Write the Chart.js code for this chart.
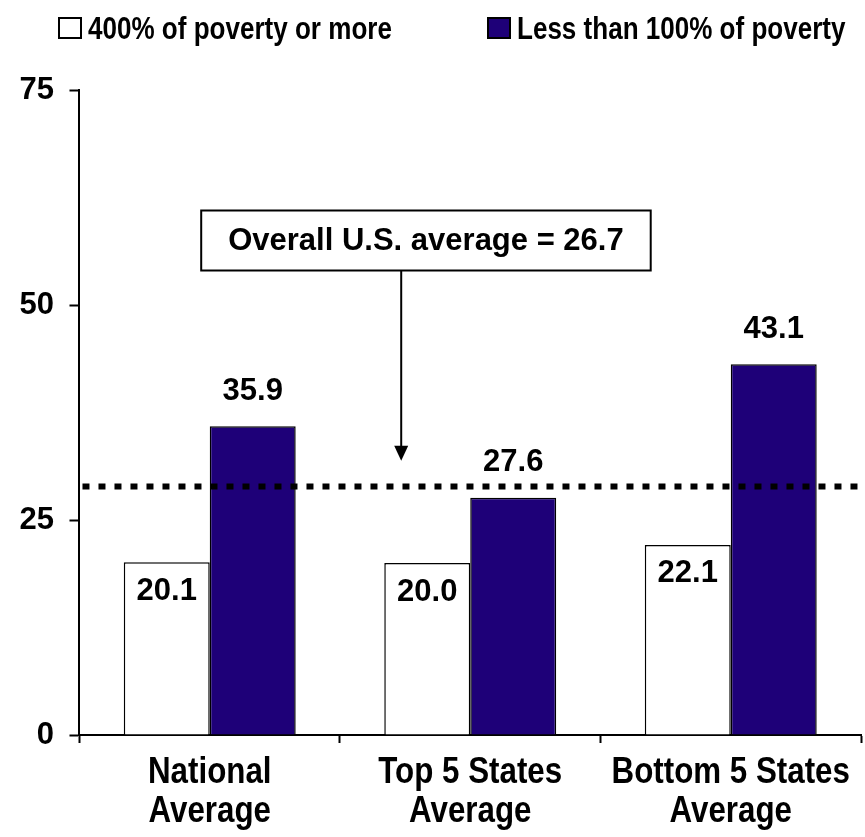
<!DOCTYPE html>
<html>
<head>
<meta charset="utf-8">
<script src="https://cdn.jsdelivr.net/npm/chart.js@4.4.1/dist/chart.umd.min.js"></script>
<style>
  html, body { margin: 0; padding: 0; background: #fff; }
  #wrap { width: 865px; height: 837px; }
</style>
</head>
<body>
<div id="wrap"><canvas id="chart"></canvas></div>
<script>
const categories = [["National", "Average"], ["Top 5 States", "Average"], ["Bottom 5 States", "Average"]];
const seriesNames = ["400% of poverty or more", "Less than 100% of poverty"];
const upperIncome = [20.1, 20.0, 22.1];
const belowPoverty = [35.9, 27.6, 43.1];
const yTicks = [0, 25, 50, 75];
const avgLine = 28.9;
const avgText = "Overall U.S. average = 26.7";

const NAVY = "#1e0078";
const arial = '"Liberation Sans", Arial, sans-serif';

// no narrow font installed, so squeeze Liberation Sans horizontally
function narrowText(ctx, txt, x, y, size, squeeze) {
  ctx.save();
  ctx.font = "bold " + size + "px " + arial;
  ctx.translate(x, y);
  ctx.scale(squeeze, 1);
  ctx.fillText(txt, 0, 0);
  ctx.restore();
}

// legend across the top
const topLegend = {
  id: "topLegend",
  afterDraw(chart) {
    const { ctx } = chart;
    const items = [
      { x: 59, color: "#fff" },
      { x: 488, color: NAVY }
    ];
    ctx.save();
    ctx.textBaseline = "alphabetic";
    ctx.textAlign = "left";
    items.forEach((it, i) => {
      ctx.fillStyle = it.color;
      ctx.fillRect(it.x, 18, 22, 20);
      ctx.lineWidth = 2;
      ctx.strokeStyle = "#000";
      ctx.strokeRect(it.x, 18, 22, 20);
      ctx.fillStyle = "#000";
      narrowText(ctx, seriesNames[i], it.x + 29, 39, 31, 0.84);
    });
    ctx.restore();
  }
};

// category names under the x axis
const catLabels = {
  id: "catLabels",
  afterDraw(chart) {
    const { ctx } = chart;
    const x = chart.scales.x;
    const base = x.top + 48;
    ctx.save();
    ctx.fillStyle = "#000";
    ctx.textAlign = "center";
    ctx.textBaseline = "alphabetic";
    categories.forEach((lines, i) => {
      const cx = x.getPixelForValue(i);
      lines.forEach((ln, k) => narrowText(ctx, ln, cx, base + k * 39, 36, 0.87));
    });
    ctx.restore();
  }
};

// value labels: white bars inside, navy bars above
const valueLabels = {
  id: "valueLabels",
  afterDatasetsDraw(chart) {
    const { ctx } = chart;
    ctx.save();
    ctx.font = "bold 31px " + arial;
    ctx.fillStyle = "#000";
    ctx.textAlign = "center";
    ctx.textBaseline = "middle";
    chart.data.datasets.forEach((ds, i) => {
      chart.getDatasetMeta(i).data.forEach((bar, j) => {
        const txt = ds.data[j].toFixed(1);
        const ty = i === 0 ? bar.y + 29 : bar.y - 35;
        ctx.fillText(txt, bar.x, ty);
      });
    });
    ctx.restore();
  }
};

// dotted average line + callout box with arrow
const avgNote = {
  id: "avgNote",
  afterDatasetsDraw(chart) {
    const { ctx, chartArea } = chart;
    const x = chart.scales.x, y = chart.scales.y;
    ctx.save();

    const ly = y.getPixelForValue(avgLine);
    ctx.strokeStyle = "#000";
    ctx.lineWidth = 6;
    ctx.setLineDash([7, 9]);
    ctx.beginPath();
    ctx.moveTo(chartArea.left + 3, ly);
    ctx.lineTo(chartArea.right + 4, ly);
    ctx.stroke();
    ctx.setLineDash([]);

    ctx.font = "bold 31px " + arial;
    const tw = ctx.measureText(avgText).width;
    const bw = tw + 54, bh = 60;
    const cx = x.getPixelForValue(0.83);
    const cy = y.getPixelForValue(57.5);
    ctx.fillStyle = "#fff";
    ctx.fillRect(cx - bw / 2, cy - bh / 2, bw, bh);
    ctx.lineWidth = 2;
    ctx.strokeRect(cx - bw / 2, cy - bh / 2, bw, bh);
    ctx.fillStyle = "#000";
    ctx.textAlign = "center";
    ctx.textBaseline = "middle";
    ctx.fillText(avgText, cx, cy + 1);

    const ax = x.getPixelForValue(0.735);
    const tip = y.getPixelForValue(31.9);
    ctx.lineWidth = 2;
    ctx.beginPath();
    ctx.moveTo(ax, cy + bh / 2);
    ctx.lineTo(ax, tip - 12);
    ctx.stroke();
    ctx.beginPath();
    ctx.moveTo(ax - 7, tip - 15);
    ctx.lineTo(ax + 7, tip - 15);
    ctx.lineTo(ax, tip);
    ctx.closePath();
    ctx.fill();
    ctx.restore();
  }
};

new Chart(document.getElementById("chart"), {
  type: "bar",
  data: {
    labels: categories,
    datasets: [
      {
        label: seriesNames[0],
        data: upperIncome,
        backgroundColor: "#fff",
        borderColor: "#000",
        borderWidth: 1.5
      },
      {
        label: seriesNames[1],
        data: belowPoverty,
        backgroundColor: NAVY,
        borderColor: "#000",
        borderWidth: 1.5
      }
    ]
  },
  options: {
    responsive: true,
    maintainAspectRatio: false,
    animation: false,
    devicePixelRatio: 1,
    layout: { padding: { left: 4, right: 4, top: 90, bottom: 2 } },
    datasets: { bar: { categoryPercentage: 0.66, barPercentage: 1 } },
    plugins: {
      tooltip: { enabled: false },
      legend: { display: false }
    },
    scales: {
      x: {
        grid: { display: true, drawOnChartArea: false, tickLength: 8, tickColor: "#000", tickWidth: 2, offset: true },
        border: { color: "#000", width: 2 },
        ticks: { display: false },
        afterFit(scale) {
          scale.height = 100;
        }
      },
      y: {
        min: 0,
        max: 75,
        afterBuildTicks(scale) {
          scale.ticks = yTicks.map(v => ({ value: v }));
        },
        grid: { display: true, drawOnChartArea: false, tickLength: 10, tickColor: "#000", tickWidth: 2 },
        border: { color: "#000", width: 2 },
        ticks: {
          color: "#000",
          padding: 15.5,
          font: { family: arial, size: 31, weight: "bold" }
        }
      }
    }
  },
  plugins: [valueLabels, avgNote, topLegend, catLabels]
});
</script>
</body>
</html>
